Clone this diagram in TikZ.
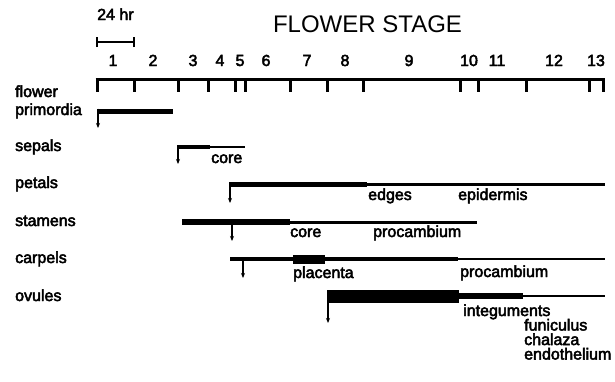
\documentclass[tikz,border=0pt]{standalone}
\usepackage{fontspec}
\setmainfont{Liberation Sans}
\newfontfamily\lblfont[FakeBold=3]{Liberation Sans}
\usetikzlibrary{arrows.meta}
\begin{document}
\begin{tikzpicture}[x=1pt,y=-1pt,
  lbl/.style={font=\lblfont\fontsize{16}{18}\selectfont, inner sep=0pt, anchor=base west},
  num/.style={font=\lblfont\fontsize{16}{18}\selectfont, inner sep=0pt, anchor=base},
  ttl/.style={font=\fontsize{24}{28}\selectfont, inner sep=0pt, anchor=base},
  bar/.style={line width=#1, line cap=butt},
  downarrow/.style={line width=1.3pt, line cap=butt, -{Stealth[length=5pt,width=4pt]}},
  axisline/.style={line width=3pt, line cap=butt},
]
\useasboundingbox (0,0) rectangle (615,381);

% title and scale bar
\node[ttl] (title) at (367.5,32) {FLOWER STAGE};
\node[lbl] (hr) at (97,20) {24 hr};
\coordinate (sbL) at (97,42);
\coordinate (sbR) at (134,42);
\draw[bar=2pt] (sbL) -- (sbR);
\draw[bar=2pt] ([yshift=-5pt]sbL) -- ([yshift=5pt]sbL);
\draw[bar=2pt] ([yshift=-5pt]sbR) -- ([yshift=5pt]sbR);

% axis
\coordinate (axL) at (95.5,79);
\coordinate (axR) at (604.5,79);
\draw[axisline] (axL) -- (axR);
\foreach \x in {97,134,178,208,235,245,290,327,363,460,478,526,589,603}
  \draw[axisline] (\x,79) -- (\x,92);
\foreach \x/\n in {113/1,153/2,193/3,220/4,240/5,266/6,307/7,345/8,409/9,469/10,497/11,554/12,596/13}
  \node[num] (st\n) at (\x,66) {\n};

% row labels
\node[lbl] (lflower) at (15,97) {flower};
\node[lbl] (lprim) at (15,115) {primordia};
\node[lbl] (lsep) at (15,151) {sepals};
\node[lbl] (lpet) at (15,188) {petals};
\node[lbl] (lsta) at (15,226) {stamens};
\node[lbl] (lcar) at (15,263) {carpels};
\node[lbl] (lovu) at (15,301) {ovules};

% flower primordia
\draw[bar=5pt] (97.5,111) -- (173,111);
\draw[downarrow] (98,108.5) -- (98,128);

% sepals
\draw[bar=4.5pt] (177.5,147) -- (210,147);
\draw[bar=2pt] (210,147) -- (245,147);
\draw[downarrow] (178,145) -- (178,164);
\node[lbl] (csep) at (211,163) {core};

% petals
\draw[bar=5pt] (229.5,184) -- (367,184);
\draw[bar=3pt] (367,184) -- (605,184);
\draw[downarrow] (230,182) -- (230,203);
\node[lbl] (edges) at (368,200) {edges};
\node[lbl] (epid) at (458,200) {epidermis};

% stamens
\draw[bar=5.5pt] (182,222) -- (290,222);
\draw[bar=3pt] (290,222) -- (477,222);
\draw[downarrow] (232,224) -- (232,241);
\node[lbl] (csta) at (290,237) {core};
\node[lbl] (psta) at (373,237) {procambium};

% carpels
\draw[bar=4.5pt] (230,259) -- (293,259);
\draw[bar=9pt] (293,259) -- (325,259);
\draw[bar=4.5pt] (325,259) -- (458,259);
\draw[bar=2pt] (458,259) -- (605,259);
\draw[downarrow] (243,261) -- (243,278);
\node[lbl] (plac) at (293,278) {placenta};
\node[lbl] (pcar) at (460,277) {procambium};

% ovules
\draw[bar=13pt] (327,296.5) -- (459,296.5);
\draw[bar=6pt] (459,296) -- (523,296);
\draw[bar=2.5pt] (523,296) -- (605,296);
\draw[downarrow] (328,303) -- (328,323);
\node[lbl] (integ) at (463,316) {integuments};
\node[lbl] (funic) at (524,330.5) {funiculus};
\node[lbl] (chal) at (524,345) {chalaza};
\node[lbl] (endo) at (524,359.5) {endothelium};
\end{tikzpicture}
\end{document}
